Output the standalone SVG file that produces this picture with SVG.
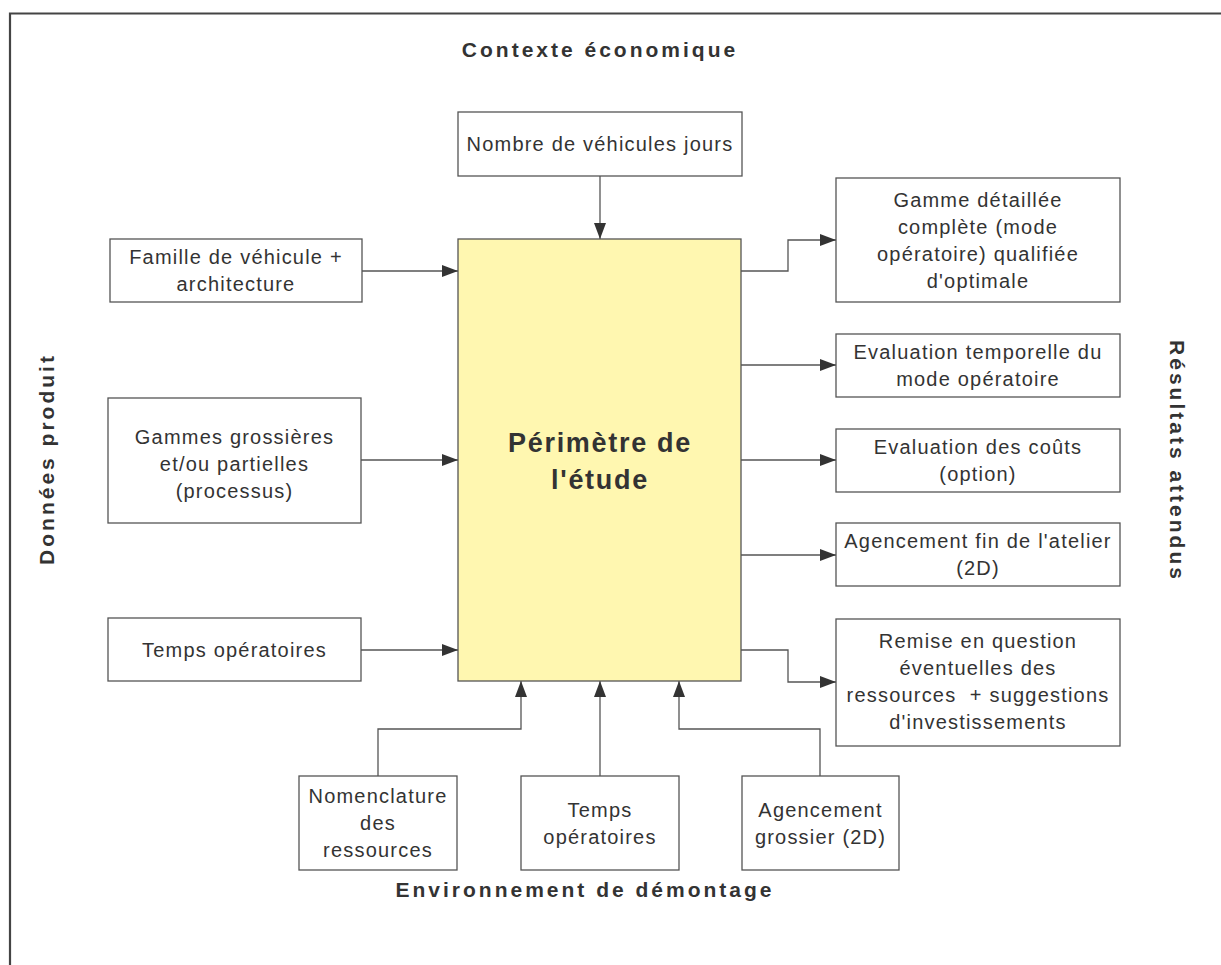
<svg xmlns="http://www.w3.org/2000/svg" width="1221" height="965" viewBox="0 0 1221 965">
<style>
.box{fill:#ffffff;stroke:#555555;stroke-width:1.3}
.main{fill:#fff7b0;stroke:#555555;stroke-width:1.3}
.t{font-family:"Liberation Sans",Arial,sans-serif;font-size:20px;letter-spacing:1.2px;fill:#333333;text-anchor:middle}
.lbl{font-family:"Liberation Sans",Arial,sans-serif;font-size:21px;font-weight:bold;letter-spacing:3px;fill:#333333;text-anchor:middle}
.big{font-family:"Liberation Sans",Arial,sans-serif;font-size:27px;font-weight:bold;letter-spacing:1.7px;fill:#333333;text-anchor:middle}
.c{fill:none;stroke:#555555;stroke-width:1.3}
</style>
<defs>
<marker id="ah" markerUnits="userSpaceOnUse" markerWidth="17" markerHeight="12" refX="16" refY="6" orient="auto">
<path d="M0,0 L16,6 L0,12 z" fill="#333333"/>
</marker>
</defs>
<rect width="1221" height="965" fill="#ffffff"/>
<path d="M10,965 V13.5 H1221" fill="none" stroke="#444444" stroke-width="2.2"/>

<g id="labels">
<text class="lbl" x="600" y="57">Contexte économique</text>
<text class="lbl" x="585" y="897">Environnement de démontage</text>
<text class="lbl" transform="translate(54,459) rotate(-90)">Données produit</text>
<text class="lbl" transform="translate(1170,461) rotate(90)">Résultats attendus</text>
</g>

<g id="connectors">
<path class="c" marker-end="url(#ah)" d="M600,176 V239"/>
<path class="c" marker-end="url(#ah)" d="M362,271 H458"/>
<path class="c" marker-end="url(#ah)" d="M361,460 H458"/>
<path class="c" marker-end="url(#ah)" d="M361,650 H458"/>
<path class="c" marker-end="url(#ah)" d="M741,271 H788 V240 H836"/>
<path class="c" marker-end="url(#ah)" d="M741,365 H836"/>
<path class="c" marker-end="url(#ah)" d="M741,460 H836"/>
<path class="c" marker-end="url(#ah)" d="M741,555 H836"/>
<path class="c" marker-end="url(#ah)" d="M741,650 H788 V682 H836"/>
<path class="c" marker-end="url(#ah)" d="M378,776 V729 H521 V681"/>
<path class="c" marker-end="url(#ah)" d="M600,776 V681"/>
<path class="c" marker-end="url(#ah)" d="M820,776 V729 H679 V681"/>
</g>

<g id="perimetre">
<rect class="main" x="458" y="239" width="283" height="442"/>
<text class="big" x="600" y="452">Périmètre de</text>
<text class="big" x="600" y="489">l'étude</text>
</g>

<g id="nombre-vehicules">
<rect class="box" x="458" y="112" width="284" height="64"/>
<text class="t" x="600" y="151">Nombre de véhicules jours</text>
</g>

<g id="famille">
<rect class="box" x="110" y="239" width="252" height="63"/>
<text class="t" x="236" y="264">Famille de véhicule +</text>
<text class="t" x="236" y="291">architecture</text>
</g>

<g id="gammes">
<rect class="box" x="108" y="398" width="253" height="125"/>
<text class="t" x="234.5" y="444">Gammes grossières</text>
<text class="t" x="234.5" y="471">et/ou partielles</text>
<text class="t" x="234.5" y="498">(processus)</text>
</g>

<g id="temps-gauche">
<rect class="box" x="108" y="618" width="253" height="63"/>
<text class="t" x="234.5" y="657">Temps opératoires</text>
</g>

<g id="gamme-detaillee">
<rect class="box" x="836" y="178" width="284" height="124"/>
<text class="t" x="978" y="207">Gamme détaillée</text>
<text class="t" x="978" y="234">complète (mode</text>
<text class="t" x="978" y="261">opératoire) qualifiée</text>
<text class="t" x="978" y="288">d'optimale</text>
</g>

<g id="evaluation-temporelle">
<rect class="box" x="836" y="334" width="284" height="63"/>
<text class="t" x="978" y="359">Evaluation temporelle du</text>
<text class="t" x="978" y="386">mode opératoire</text>
</g>

<g id="evaluation-couts">
<rect class="box" x="836" y="429" width="284" height="63"/>
<text class="t" x="978" y="454">Evaluation des coûts</text>
<text class="t" x="978" y="481">(option)</text>
</g>

<g id="agencement-fin">
<rect class="box" x="836" y="523" width="284" height="63"/>
<text class="t" x="978" y="548">Agencement fin de l'atelier</text>
<text class="t" x="978" y="575">(2D)</text>
</g>

<g id="remise">
<rect class="box" x="836" y="619" width="284" height="127"/>
<text class="t" x="978" y="648">Remise en question</text>
<text class="t" x="978" y="675">éventuelles des</text>
<text class="t" x="978" y="702" xml:space="preserve">ressources  + suggestions</text>
<text class="t" x="978" y="729">d'investissements</text>
</g>

<g id="nomenclature">
<rect class="box" x="299" y="776" width="158" height="94"/>
<text class="t" x="378" y="803">Nomenclature</text>
<text class="t" x="378" y="830">des</text>
<text class="t" x="378" y="857">ressources</text>
</g>

<g id="temps-bas">
<rect class="box" x="521" y="776" width="158" height="94"/>
<text class="t" x="600" y="817">Temps</text>
<text class="t" x="600" y="844">opératoires</text>
</g>

<g id="agencement-grossier">
<rect class="box" x="742" y="776" width="157" height="94"/>
<text class="t" x="820.5" y="817">Agencement</text>
<text class="t" x="820.5" y="844">grossier (2D)</text>
</g>
</svg>
